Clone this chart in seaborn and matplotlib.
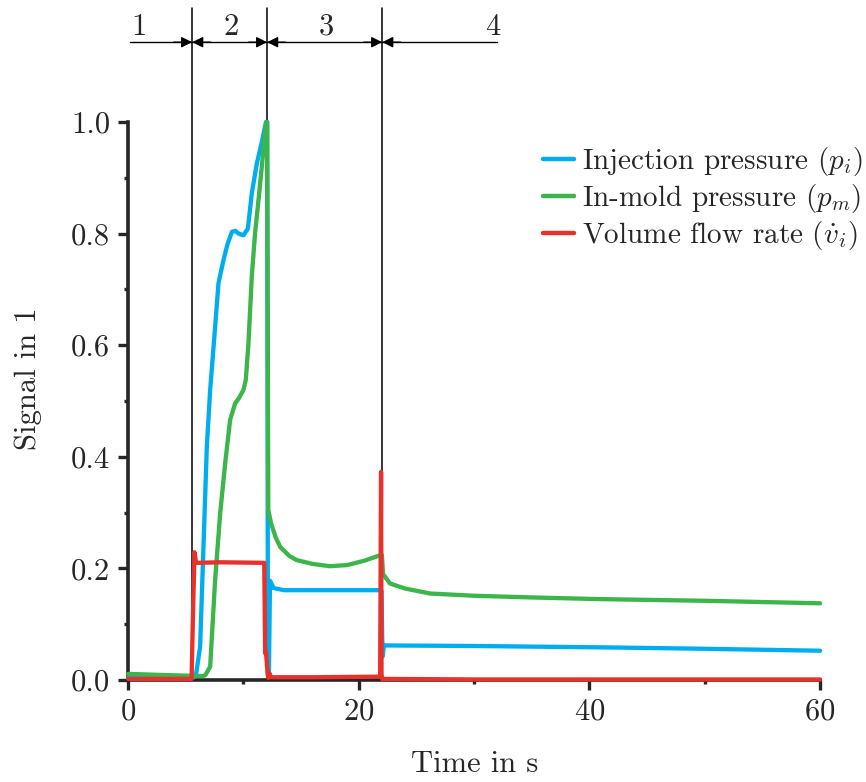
import numpy as np
import pandas as pd
import matplotlib
matplotlib.use("Agg")
import matplotlib.pyplot as plt
from matplotlib.ticker import MultipleLocator
import seaborn as sns

# ---------------- data ----------------
t_inj = [0, 5.0, 5.7, 5.9, 6.24, 6.53, 6.82, 7.11, 7.54, 7.83, 8.27, 8.6, 8.99, 9.3,
         9.57, 10.0, 10.38, 10.72, 11.16, 11.6, 11.95, 12.05, 12.12, 12.2, 12.3, 12.6,
         13.5, 18, 21.9, 21.97, 22.05, 22.2, 22.3, 30, 40.9, 50, 60]
v_inj = [0.004, 0.004, 0.005, 0.012, 0.06, 0.239, 0.418, 0.52, 0.633, 0.711, 0.753, 0.78,
         0.803, 0.805, 0.80, 0.797, 0.809, 0.872, 0.926, 0.965, 1.0, 1.0, 0.01, 0.005,
         0.178, 0.165, 0.161, 0.161, 0.161, 0.16, 0.042, 0.063, 0.062, 0.061, 0.0586,
         0.056, 0.0525]

t_mold = [0, 3, 6.5, 6.7, 7.11, 7.54, 7.98, 8.41, 8.84, 9.28, 9.6, 10.0, 10.2, 10.43,
          10.72, 11.0, 11.36, 11.73, 11.97, 12.05, 12.15, 12.4, 12.8, 13.2, 14.0, 14.6,
          16, 17.5, 19, 20.5, 21.9, 22.0, 22.1, 22.7, 24, 26.2, 30, 35, 40.9, 50, 60]
v_mold = [0.011, 0.009, 0.007, 0.009, 0.024, 0.179, 0.299, 0.388, 0.466, 0.496, 0.505,
          0.52, 0.538, 0.603, 0.723, 0.80, 0.872, 0.95, 0.998, 1.0, 0.305, 0.28, 0.255,
          0.238, 0.222, 0.215, 0.208, 0.204, 0.206, 0.214, 0.224, 0.224, 0.19, 0.173,
          0.164, 0.155, 0.151, 0.148, 0.145, 0.142, 0.1375]

t_flow = [0, 5.5, 5.6, 5.75, 5.9, 8, 11.8, 11.88, 11.95, 12.1, 12.15, 12.25, 12.4, 16,
          21.85, 21.93, 21.97, 22.05, 22.2, 30, 40, 50, 60]
v_flow = [0.002, 0.002, 0.10, 0.229, 0.21, 0.211, 0.21, 0.048, 0.05, 0.01, 0.004, 0.012,
          0.005, 0.005, 0.006, 0.373, 0.01, 0.001, 0.002, 0.001, 0.001, 0.001, 0.001]

series_labels = [r"Injection pressure $(p_i)$",
                 r"In-mold pressure $(p_m)$",
                 r"Volume flow rate $(\dot{v}_i)$"]
series_colors = ["#00AEEF", "#3CB54A", "#E8312A"]

phase_bounds = [5.55, 12.05, 22.03]
phase_labels = ["1", "2", "3", "4"]
phase_label_x = [0.9, 8.9, 17.2, 31.6]

x_label = "Time in s"
y_label = "Signal in 1"

# ---------------- style ----------------
sns.set_style("ticks")
plt.rcParams["font.family"] = ["cmr10", "DejaVu Serif"]
plt.rcParams["mathtext.fontset"] = "cm"
plt.rcParams["axes.unicode_minus"] = False
plt.rcParams["axes.formatter.use_mathtext"] = True

df = pd.concat([
    pd.DataFrame({"t": t_inj, "v": v_inj, "series": series_labels[0]}),
    pd.DataFrame({"t": t_mold, "v": v_mold, "series": series_labels[1]}),
    pd.DataFrame({"t": t_flow, "v": v_flow, "series": series_labels[2]}),
], ignore_index=True)

fig = plt.figure(figsize=(8.66, 7.82), dpi=100)
ax = fig.add_axes([0.148, 0.1304, 0.799, 0.7136])

sns.lineplot(data=df, x="t", y="v", hue="series", hue_order=series_labels,
             palette=series_colors, estimator=None, sort=False, lw=3.1,
             ax=ax, zorder=3, clip_on=False)

ax.set_xlim(0, 60)
ax.set_ylim(0, 1.0)
ax.xaxis.set_major_locator(MultipleLocator(20))
ax.xaxis.set_minor_locator(MultipleLocator(10))
ax.yaxis.set_major_locator(MultipleLocator(0.2))
ax.yaxis.set_minor_locator(MultipleLocator(0.1))
ax.yaxis.set_major_formatter(matplotlib.ticker.FormatStrFormatter("%.1f"))
ax.tick_params(which="major", direction="out", length=7, width=2.4, labelsize=22, pad=6)
ax.tick_params(which="minor", direction="out", length=3, width=2.4)
for s in ["top", "right"]:
    ax.spines[s].set_visible(False)
for s in ["left", "bottom"]:
    ax.spines[s].set_linewidth(2.6)

ax.set_xlabel(x_label, fontsize=22, labelpad=18)
ax.set_ylabel(y_label, fontsize=22, labelpad=14)
ax.yaxis.set_label_coords(-0.125, 0.54)

# phase boundaries and arrows
y_top = 1.205
y_arrow = 1.143
y_text = 1.17
for xb in phase_bounds:
    ax.plot([xb, xb], [0, y_top], color="black", lw=1.1, clip_on=False, zorder=2)
ax.plot([0.15, 32.0], [y_arrow, y_arrow], color="black", lw=1.0, clip_on=False)
for xb in phase_bounds:
    for d in (-1, 1):
        ax.annotate("", xy=(xb, y_arrow), xytext=(xb + d * 1.6, y_arrow),
                    arrowprops=dict(arrowstyle="-|>", color="black", lw=1.0,
                                    mutation_scale=16, shrinkA=0, shrinkB=0),
                    annotation_clip=False)
for xl, lab in zip(phase_label_x, phase_labels):
    ax.text(xl, y_text, lab, fontsize=22, ha="center", va="center")

# legend
old = ax.get_legend()
handles = old.legend_handles
labels = [t.get_text() for t in old.get_texts()]
old.remove()
leg = fig.legend(handles, labels, loc="upper left", bbox_to_anchor=(0.627, 0.814),
                 bbox_transform=fig.transFigure, frameon=False, fontsize=21,
                 handlelength=1.05, handletextpad=0.28, labelspacing=0.13,
                 borderpad=0, borderaxespad=0)
for h in leg.legend_handles:
    h.set_linewidth(3.2)

fig.savefig("out.png", dpi=100)
